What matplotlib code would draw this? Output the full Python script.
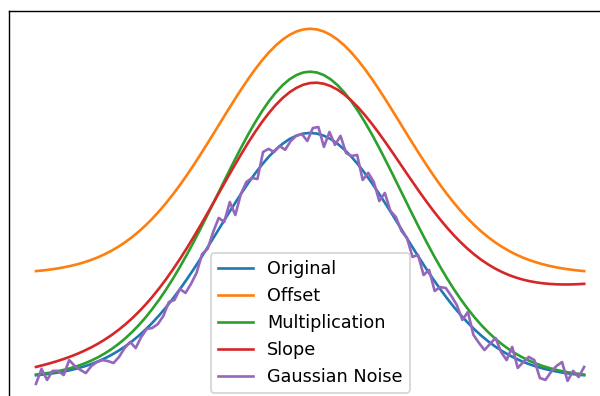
import numpy as np
import matplotlib
matplotlib.use('Agg')
import matplotlib.pyplot as plt

# smooth curves, sampled on an 81 point grid from -3 to 3
x_smooth = np.linspace(-3, 3, 81)

original = [0.0111, 0.0139, 0.0172, 0.0213, 0.0261, 0.0319, 0.0387, 0.0468, 0.0561, 0.0670,
            0.0796, 0.0939, 0.1103, 0.1287, 0.1494, 0.1724, 0.1979, 0.2259, 0.2564, 0.2893,
            0.3247, 0.3623, 0.4020, 0.4436, 0.4868, 0.5311, 0.5762, 0.6217, 0.6670, 0.7115,
            0.7548, 0.7963, 0.8353, 0.8713, 0.9037, 0.9321, 0.9560, 0.9750, 0.9888, 0.9972,
            1.0000,
            0.9972, 0.9888, 0.9750, 0.9560, 0.9321, 0.9037, 0.8713, 0.8353, 0.7963, 0.7548,
            0.7115, 0.6670, 0.6217, 0.5762, 0.5311, 0.4868, 0.4436, 0.4020, 0.3623, 0.3247,
            0.2893, 0.2564, 0.2259, 0.1979, 0.1724, 0.1494, 0.1287, 0.1103, 0.0939, 0.0796,
            0.0670, 0.0561, 0.0468, 0.0387, 0.0319, 0.0261, 0.0213, 0.0172, 0.0139, 0.0111]

offset = [0.4361, 0.4389, 0.4422, 0.4463, 0.4511, 0.4569, 0.4637, 0.4718, 0.4811, 0.4920,
          0.5046, 0.5189, 0.5353, 0.5537, 0.5744, 0.5974, 0.6229, 0.6509, 0.6814, 0.7143,
          0.7497, 0.7873, 0.8270, 0.8686, 0.9118, 0.9561, 1.0012, 1.0467, 1.0920, 1.1365,
          1.1798, 1.2213, 1.2603, 1.2963, 1.3287, 1.3571, 1.3810, 1.4000, 1.4138, 1.4222,
          1.4250,
          1.4222, 1.4138, 1.4000, 1.3810, 1.3571, 1.3287, 1.2963, 1.2603, 1.2213, 1.1798,
          1.1365, 1.0920, 1.0467, 1.0012, 0.9561, 0.9118, 0.8686, 0.8270, 0.7873, 0.7497,
          0.7143, 0.6814, 0.6509, 0.6229, 0.5974, 0.5744, 0.5537, 0.5353, 0.5189, 0.5046,
          0.4920, 0.4811, 0.4718, 0.4637, 0.4569, 0.4511, 0.4463, 0.4422, 0.4389, 0.4361]

multiplication = [0.0139, 0.0174, 0.0215, 0.0266, 0.0326, 0.0399, 0.0484, 0.0585, 0.0701, 0.0838,
                  0.0995, 0.1174, 0.1379, 0.1609, 0.1868, 0.2155, 0.2474, 0.2824, 0.3205, 0.3616,
                  0.4059, 0.4529, 0.5025, 0.5545, 0.6085, 0.6639, 0.7203, 0.7771, 0.8338, 0.8894,
                  0.9435, 0.9954, 1.0441, 1.0891, 1.1296, 1.1651, 1.1950, 1.2188, 1.2360, 1.2465,
                  1.2500,
                  1.2465, 1.2360, 1.2188, 1.1950, 1.1651, 1.1296, 1.0891, 1.0441, 0.9954, 0.9435,
                  0.8894, 0.8338, 0.7771, 0.7203, 0.6639, 0.6085, 0.5545, 0.5025, 0.4529, 0.4059,
                  0.3616, 0.3205, 0.2824, 0.2474, 0.2155, 0.1868, 0.1609, 0.1379, 0.1174, 0.0995,
                  0.0838, 0.0701, 0.0585, 0.0484, 0.0399, 0.0326, 0.0266, 0.0215, 0.0174, 0.0139]

slope = [0.0451, 0.0521, 0.0597, 0.0680, 0.0771, 0.0871, 0.0981, 0.1105, 0.1240, 0.1391,
         0.1560, 0.1745, 0.1952, 0.2178, 0.2427, 0.2700, 0.2997, 0.3319, 0.3667, 0.4038,
         0.4435, 0.4853, 0.5292, 0.5751, 0.6225, 0.6710, 0.7204, 0.7701, 0.8197, 0.8684,
         0.9159, 0.9617, 1.0049, 1.0451, 1.0818, 1.1144, 1.1426, 1.1658, 1.1838, 1.1965,
         1.2035,
         1.2049, 1.2008, 1.1912, 1.1765, 1.1568, 1.1326, 1.1045, 1.0727, 1.0379, 1.0007,
         0.9616, 0.9214, 0.8803, 0.8390, 0.7982, 0.7581, 0.7191, 0.6818, 0.6463, 0.6130,
         0.5818, 0.5531, 0.5269, 0.5031, 0.4818, 0.4631, 0.4466, 0.4325, 0.4203, 0.4102,
         0.4019, 0.3952, 0.3901, 0.3863, 0.3837, 0.3822, 0.3816, 0.3817, 0.3827, 0.3841]

# noisy version, 100 samples from -3 to 3
x_noise = np.linspace(-3, 3, 100)
noise = [-0.024, 0.037, -0.008, 0.029, 0.029, 0.012, 0.073, 0.049, 0.033, 0.020,
         0.049, 0.065, 0.073, 0.069, 0.061, 0.086, 0.122, 0.147, 0.122, 0.167,
         0.200, 0.204, 0.220, 0.253, 0.310, 0.318, 0.363, 0.347, 0.384, 0.429,
         0.506, 0.527, 0.596, 0.653, 0.637, 0.718, 0.665, 0.751, 0.800, 0.816,
         0.812, 0.922, 0.935, 0.922, 0.947, 0.931, 0.967, 0.988, 0.996, 0.967,
         1.020, 1.024, 0.943, 1.004, 0.951, 0.988, 0.918, 0.906, 0.910, 0.808,
         0.837, 0.800, 0.722, 0.755, 0.682, 0.657, 0.600, 0.571, 0.494, 0.502,
         0.420, 0.441, 0.355, 0.371, 0.367, 0.335, 0.298, 0.237, 0.269, 0.176,
         0.143, 0.114, 0.139, 0.163, 0.106, 0.073, 0.127, 0.041, 0.065, 0.086,
         0.073, 0.000, -0.008, 0.024, 0.049, 0.065, -0.012, 0.029, 0.004, 0.045]

dpi = 127
fig = plt.figure(figsize=(600 / dpi, 396 / dpi), dpi=dpi)
# the picture is a crop: axes run past the right and bottom edges
ax = fig.add_axes([0.0143, -0.0142, 1.005, 0.9864])

ax.plot(x_smooth, original, label='Original')
ax.plot(x_smooth, offset, label='Offset')
ax.plot(x_smooth, multiplication, label='Multiplication')
ax.plot(x_smooth, slope, label='Slope')
ax.plot(x_noise, noise, label='Gaussian Noise')

ax.set_xticks([])
ax.set_yticks([])
ax.legend(loc='lower center')

fig.savefig('out.png', dpi=dpi)
